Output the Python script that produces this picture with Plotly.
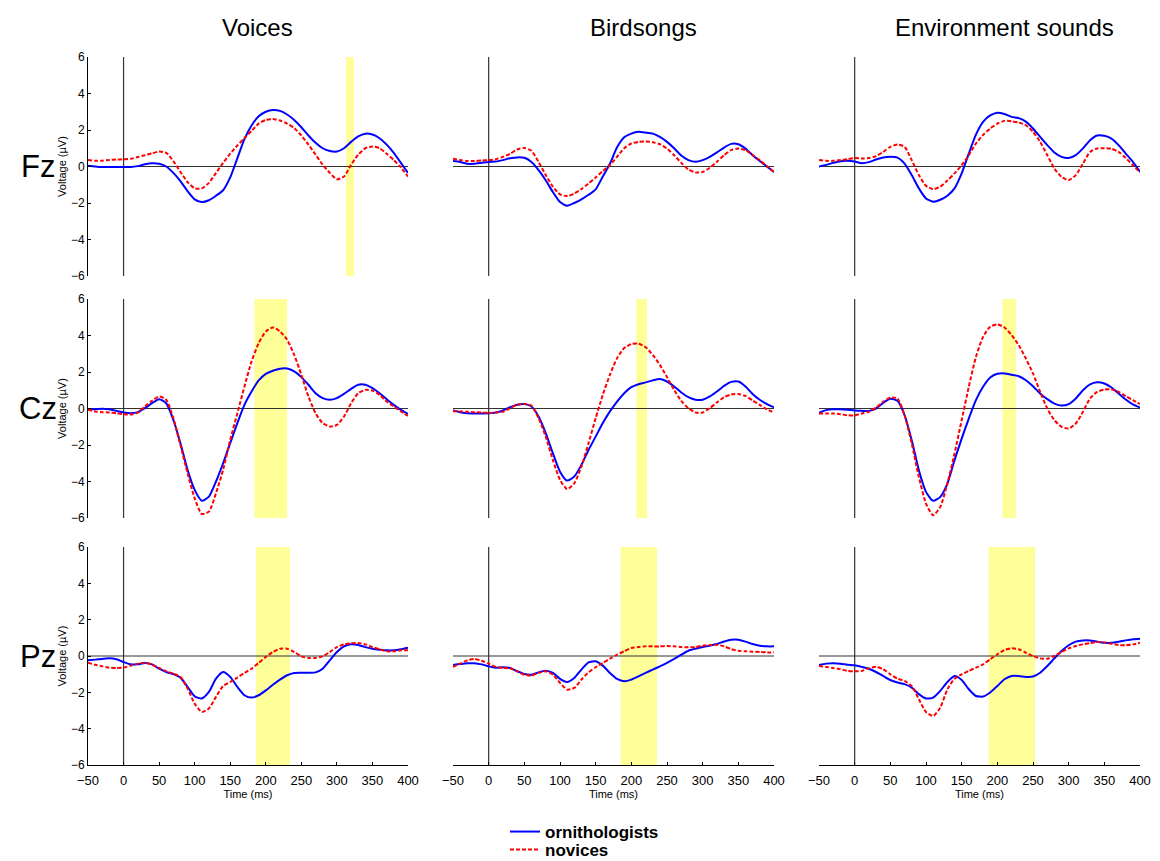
import plotly.graph_objects as go

# ---------------- data ----------------
TIME = list(range(-50, 401, 10))

COLUMNS = ["Voices", "Birdsongs", "Environment sounds"]
ROWS = ["Fz", "Cz", "Pz"]
GROUPS = ["ornithologists", "novices"]

# Fz
FZ_VOICES_ORN = [0.04, 0.0, -0.03, -0.03, -0.03, -0.03, -0.03, 0.02, 0.12, 0.18, 0.15, 0.0, -0.35, -0.8, -1.35, -1.8, -1.95, -1.85, -1.6, -1.3, -0.6, 0.45, 1.5, 2.25, 2.75, 3.0, 3.1, 3.05, 2.85, 2.55, 2.15, 1.7, 1.3, 1.0, 0.85, 0.82, 1.0, 1.35, 1.65, 1.8, 1.75, 1.55, 1.2, 0.75, 0.2, -0.35]
FZ_VOICES_NOV = [0.35, 0.32, 0.32, 0.36, 0.38, 0.4, 0.42, 0.52, 0.62, 0.72, 0.82, 0.75, 0.3, -0.3, -0.85, -1.2, -1.2, -0.9, -0.35, 0.2, 0.7, 1.15, 1.55, 1.95, 2.35, 2.55, 2.6, 2.52, 2.35, 2.1, 1.7, 1.2, 0.65, 0.1, -0.35, -0.7, -0.55, 0.1, 0.65, 1.0, 1.1, 1.0, 0.7, 0.35, -0.05, -0.55]
FZ_BIRDS_ORN = [0.3, 0.25, 0.15, 0.15, 0.2, 0.25, 0.27, 0.35, 0.45, 0.5, 0.48, 0.25, -0.2, -0.75, -1.4, -1.95, -2.15, -2.0, -1.8, -1.55, -1.25, -0.55, 0.15, 1.05, 1.6, 1.8, 1.9, 1.86, 1.8, 1.62, 1.35, 1.0, 0.6, 0.35, 0.26, 0.35, 0.53, 0.77, 1.04, 1.24, 1.22, 0.98, 0.62, 0.3, 0.0, -0.3]
FZ_BIRDS_NOV = [0.42, 0.35, 0.3, 0.3, 0.33, 0.35, 0.4, 0.53, 0.7, 0.93, 1.02, 0.86, 0.25, -0.47, -1.1, -1.53, -1.62, -1.48, -1.24, -0.93, -0.6, -0.25, 0.08, 0.53, 1.0, 1.26, 1.35, 1.37, 1.33, 1.22, 0.98, 0.62, 0.2, -0.16, -0.33, -0.3, -0.07, 0.26, 0.62, 0.9, 0.98, 0.9, 0.62, 0.35, 0.02, -0.3]
FZ_ENV_ORN = [0.0, 0.09, 0.2, 0.29, 0.31, 0.27, 0.18, 0.24, 0.38, 0.49, 0.53, 0.49, 0.16, -0.47, -1.2, -1.75, -1.93, -1.82, -1.6, -1.2, -0.38, 0.71, 1.75, 2.45, 2.8, 2.95, 2.88, 2.72, 2.65, 2.46, 2.08, 1.62, 1.17, 0.77, 0.53, 0.47, 0.62, 0.99, 1.44, 1.7, 1.68, 1.53, 1.17, 0.71, 0.26, -0.29]
FZ_ENV_NOV = [0.35, 0.31, 0.31, 0.35, 0.4, 0.46, 0.44, 0.46, 0.57, 0.8, 1.08, 1.2, 1.08, 0.35, -0.47, -1.06, -1.24, -1.11, -0.77, -0.38, 0.07, 0.62, 1.26, 1.73, 2.08, 2.35, 2.5, 2.48, 2.41, 2.26, 1.9, 1.35, 0.62, -0.11, -0.57, -0.75, -0.47, 0.16, 0.8, 0.99, 1.0, 0.97, 0.8, 0.47, 0.07, -0.33]

# Cz
CZ_VOICES_ORN = [-0.04, -0.04, -0.02, -0.04, -0.13, -0.22, -0.26, -0.2, 0.02, 0.29, 0.51, 0.29, -0.62, -1.9, -3.36, -4.46, -5.05, -4.83, -4.0, -3.0, -1.9, -0.8, 0.2, 0.93, 1.54, 1.9, 2.07, 2.18, 2.19, 2.03, 1.72, 1.3, 0.84, 0.57, 0.48, 0.57, 0.8, 1.08, 1.3, 1.3, 1.12, 0.84, 0.51, 0.2, -0.07, -0.29]
CZ_VOICES_NOV = [-0.07, -0.16, -0.2, -0.22, -0.26, -0.31, -0.33, -0.22, 0.11, 0.42, 0.66, 0.48, -0.53, -2.0, -3.55, -4.92, -5.78, -5.65, -4.64, -3.36, -1.72, -0.26, 1.2, 2.58, 3.58, 4.22, 4.44, 4.22, 3.77, 2.94, 1.85, 0.66, -0.26, -0.8, -0.99, -0.9, -0.44, 0.29, 0.84, 1.02, 0.99, 0.75, 0.38, 0.11, -0.16, -0.4]
CZ_BIRDS_ORN = [-0.11, -0.2, -0.26, -0.27, -0.27, -0.26, -0.22, -0.11, 0.07, 0.2, 0.24, 0.11, -0.44, -1.35, -2.45, -3.46, -3.95, -3.73, -3.09, -2.27, -1.54, -0.8, -0.16, 0.38, 0.84, 1.17, 1.33, 1.43, 1.54, 1.61, 1.48, 1.21, 0.88, 0.62, 0.48, 0.48, 0.66, 0.93, 1.24, 1.46, 1.48, 1.21, 0.8, 0.48, 0.24, 0.07]
CZ_BIRDS_NOV = [-0.15, -0.16, -0.18, -0.2, -0.22, -0.24, -0.22, -0.18, 0.02, 0.2, 0.26, 0.15, -0.53, -1.54, -2.82, -3.91, -4.42, -4.1, -3.18, -1.9, -0.53, 0.75, 1.85, 2.76, 3.31, 3.53, 3.55, 3.36, 2.94, 2.39, 1.72, 1.02, 0.42, 0.02, -0.22, -0.22, 0.02, 0.33, 0.62, 0.77, 0.79, 0.69, 0.44, 0.2, -0.04, -0.22]
CZ_ENV_ORN = [-0.24, -0.09, -0.04, -0.04, -0.07, -0.11, -0.13, -0.13, 0.0, 0.31, 0.53, 0.42, -0.37, -1.74, -3.38, -4.57, -5.06, -4.84, -4.11, -2.83, -1.65, -0.55, 0.46, 1.19, 1.7, 1.9, 1.92, 1.85, 1.77, 1.55, 1.22, 0.82, 0.51, 0.27, 0.16, 0.24, 0.55, 1.0, 1.32, 1.44, 1.37, 1.15, 0.82, 0.49, 0.22, 0.05]
CZ_ENV_NOV = [-0.27, -0.27, -0.27, -0.31, -0.37, -0.38, -0.27, -0.18, 0.05, 0.37, 0.6, 0.55, -0.37, -1.92, -3.75, -5.21, -5.85, -5.39, -4.11, -2.47, -0.64, 1.19, 2.83, 3.93, 4.48, 4.61, 4.44, 4.02, 3.47, 2.74, 1.92, 0.91, 0.0, -0.64, -1.0, -1.1, -0.82, -0.18, 0.55, 0.91, 1.04, 1.04, 0.91, 0.68, 0.46, 0.24]

# Pz
PZ_VOICES_ORN = [-0.24, -0.2, -0.16, -0.13, -0.18, -0.33, -0.46, -0.46, -0.38, -0.46, -0.7, -0.88, -1.0, -1.19, -1.7, -2.22, -2.34, -1.98, -1.25, -0.88, -1.15, -1.7, -2.16, -2.29, -2.16, -1.89, -1.58, -1.3, -1.06, -0.93, -0.92, -0.92, -0.9, -0.7, -0.24, 0.22, 0.53, 0.64, 0.6, 0.49, 0.4, 0.35, 0.31, 0.31, 0.37, 0.46]
PZ_VOICES_NOV = [-0.37, -0.48, -0.57, -0.64, -0.66, -0.64, -0.53, -0.42, -0.37, -0.48, -0.66, -0.84, -0.97, -1.15, -1.79, -2.62, -3.08, -2.89, -2.25, -1.65, -1.43, -1.19, -0.93, -0.7, -0.38, -0.05, 0.22, 0.4, 0.4, 0.22, -0.02, -0.11, -0.11, -0.02, 0.22, 0.49, 0.64, 0.7, 0.71, 0.64, 0.49, 0.37, 0.26, 0.26, 0.31, 0.31]
PZ_BIRDS_ORN = [-0.49, -0.44, -0.4, -0.4, -0.46, -0.57, -0.64, -0.62, -0.66, -0.84, -0.99, -1.03, -0.9, -0.81, -0.93, -1.26, -1.43, -1.21, -0.75, -0.35, -0.29, -0.53, -0.93, -1.26, -1.39, -1.3, -1.12, -0.93, -0.75, -0.57, -0.38, -0.16, 0.07, 0.29, 0.4, 0.49, 0.57, 0.66, 0.8, 0.9, 0.9, 0.79, 0.66, 0.57, 0.53, 0.53]
PZ_BIRDS_NOV = [-0.6, -0.42, -0.24, -0.16, -0.26, -0.42, -0.6, -0.66, -0.68, -0.84, -1.03, -1.08, -0.93, -0.84, -1.03, -1.48, -1.85, -1.76, -1.3, -0.9, -0.62, -0.38, -0.15, 0.07, 0.26, 0.44, 0.49, 0.53, 0.53, 0.53, 0.55, 0.53, 0.49, 0.48, 0.49, 0.57, 0.6, 0.62, 0.53, 0.38, 0.29, 0.26, 0.24, 0.22, 0.2, 0.2]
PZ_ENV_ORN = [-0.49, -0.42, -0.4, -0.42, -0.48, -0.51, -0.6, -0.7, -0.88, -1.1, -1.32, -1.46, -1.55, -1.74, -2.1, -2.34, -2.29, -1.92, -1.43, -1.1, -1.32, -1.83, -2.2, -2.23, -2.01, -1.65, -1.28, -1.1, -1.1, -1.15, -1.13, -0.92, -0.55, -0.13, 0.27, 0.59, 0.79, 0.86, 0.86, 0.79, 0.73, 0.73, 0.79, 0.86, 0.92, 0.95]
PZ_ENV_NOV = [-0.55, -0.6, -0.66, -0.73, -0.82, -0.84, -0.82, -0.68, -0.59, -0.73, -1.01, -1.25, -1.37, -1.65, -2.38, -3.08, -3.3, -2.84, -1.83, -1.25, -1.01, -0.82, -0.64, -0.46, -0.18, 0.09, 0.33, 0.42, 0.37, 0.18, 0.0, -0.13, -0.15, 0.0, 0.22, 0.42, 0.55, 0.64, 0.71, 0.77, 0.75, 0.68, 0.6, 0.59, 0.64, 0.73]

# significant windows (ms) per panel, row-major
WINDOWS = [
    (313, 324), None, None,
    (184, 230), (207, 222), (207, 226),
    (186, 234), (185, 236), (188, 253),
]

X_TICKS = [-50, 0, 50, 100, 150, 200, 250, 300, 350, 400]
Y_TICKS = [-6, -4, -2, 0, 2, 4, 6]

SERIES = [
    (FZ_VOICES_ORN, FZ_VOICES_NOV), (FZ_BIRDS_ORN, FZ_BIRDS_NOV), (FZ_ENV_ORN, FZ_ENV_NOV),
    (CZ_VOICES_ORN, CZ_VOICES_NOV), (CZ_BIRDS_ORN, CZ_BIRDS_NOV), (CZ_ENV_ORN, CZ_ENV_NOV),
    (PZ_VOICES_ORN, PZ_VOICES_NOV), (PZ_BIRDS_ORN, PZ_BIRDS_NOV), (PZ_ENV_ORN, PZ_ENV_NOV),
]

# ---------------- layout geometry (pixels) ----------------
W, H = 1160, 861
COL_PX = [(88, 408), (453, 774), (819, 1140)]
ROW_PX = [(57, 276), (299, 518), (547, 765)]
TITLE_X_PX = [257, 643, 1004]
FONT = "Liberation Sans, Arial, sans-serif"

fig = go.Figure()
layout = dict(
    width=W, height=H, margin=dict(l=0, r=0, t=0, b=0, autoexpand=False),
    paper_bgcolor="white", plot_bgcolor="rgba(0,0,0,0)",
    font=dict(family=FONT, color="black"),
    showlegend=True,
)
shapes = []
annotations = []

for k in range(9):
    r, c = divmod(k, 3)
    ax = "" if k == 0 else str(k + 1)
    xr, yr = "x" + ax, "y" + ax
    orn, nov = SERIES[k]
    fig.add_trace(go.Scatter(
        x=TIME, y=orn, mode="lines", name=GROUPS[0], legend="legend", showlegend=(k == 0),
        line=dict(color="#0000FF", width=2, shape="spline", smoothing=0.6),
        xaxis=xr, yaxis=yr))
    fig.add_trace(go.Scatter(
        x=TIME, y=nov, mode="lines", name=GROUPS[1], legend="legend2", showlegend=(k == 0),
        line=dict(color="#FF0000", width=2, dash="4px,2px", shape="spline", smoothing=0.6),
        xaxis=xr, yaxis=yr))

    x0p, x1p = COL_PX[c]
    y0p, y1p = ROW_PX[r]
    bottom = (r == 2)
    left = (c == 0)
    layout["xaxis" + ax] = dict(
        domain=[x0p / W, x1p / W], anchor=yr, range=[-50, 400], automargin=False,
        showgrid=False, zeroline=False,
        showline=bottom, linecolor="black", linewidth=1,
        ticks="inside" if bottom else "", ticklen=3, tickcolor="black",
        tickvals=X_TICKS if bottom else [], showticklabels=bottom,
        ticklabelstandoff=3,
        tickfont=dict(size=13, family=FONT),
        title=dict(text="Time (ms)", font=dict(size=11, family=FONT), standoff=0) if bottom else None,
    )
    layout["yaxis" + ax] = dict(
        domain=[1 - y1p / H, 1 - y0p / H], anchor=xr, range=[-6, 6], automargin=False,
        showgrid=False, zeroline=False,
        showline=left, linecolor="black", linewidth=1,
        ticks="inside" if left else "", ticklen=3, tickcolor="black",
        tickvals=Y_TICKS if left else [], showticklabels=left,
        tickfont=dict(size=12, family=FONT),
        title=dict(text="Voltage (µV)", font=dict(size=11, family=FONT), standoff=2) if left else None,
    )

    win = WINDOWS[k]
    if win:
        shapes.append(dict(type="rect", xref=xr, yref=yr, x0=win[0], x1=win[1], y0=-6, y1=6,
                           fillcolor="#FFFF99", line=dict(width=0), layer="below"))
    shapes.append(dict(type="line", xref=xr, yref=yr, x0=-50, x1=400, y0=0, y1=0,
                       line=dict(color="#333333", width=1.2), layer="below"))
    shapes.append(dict(type="line", xref=xr, yref=yr, x0=0, x1=0, y0=-6, y1=6,
                       line=dict(color="#333333", width=1.2), layer="below"))

# column titles
for c, name in enumerate(COLUMNS):
    annotations.append(dict(text=name, x=TITLE_X_PX[c] / W, y=1 - 28 / H, xref="paper", yref="paper",
                            showarrow=False, font=dict(size=24, family=FONT),
                            xanchor="center", yanchor="middle"))
# row labels
for r, name in enumerate(ROWS):
    cy = (ROW_PX[r][0] + ROW_PX[r][1]) / 2 / H
    annotations.append(dict(text=name, x=38 / W, y=1 - cy, xref="paper", yref="paper",
                            showarrow=False, font=dict(size=31, family=FONT),
                            xanchor="center", yanchor="middle"))

layout["shapes"] = shapes
layout["annotations"] = annotations
legend_style = dict(
    xanchor="left", yanchor="middle",
    bgcolor="rgba(0,0,0,0)", borderwidth=0,
    font=dict(size=17, family=FONT, color="black", weight="bold"),
    itemwidth=30,
)
layout["legend"] = dict(x=505 / W, y=1 - 832 / H, **legend_style)
layout["legend2"] = dict(x=505 / W, y=1 - 850 / H, **legend_style)
fig.update_layout(**layout)
fig.write_html("out.html")
